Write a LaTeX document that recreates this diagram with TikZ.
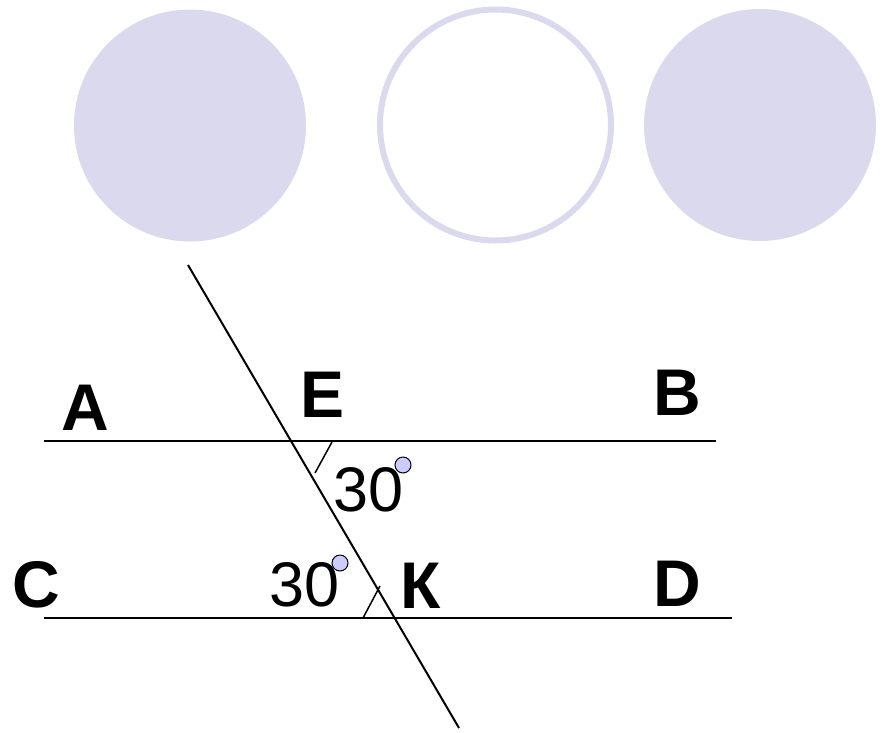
\documentclass[tikz,border=0pt]{standalone}
\usepackage{fontspec}
\setmainfont{Liberation Sans}
\usetikzlibrary{positioning}
\definecolor{lilac}{HTML}{DAD9ED}
\definecolor{degfill}{HTML}{CCCCFF}

\begin{document}
\begin{tikzpicture}[x=1pt, y=-1pt, line width=2pt,
  letter/.style={inner sep=0pt, font=\fontsize{66}{70}\selectfont\bfseries},
  angnum/.style={inner sep=0pt, font=\fontsize{63}{68}\selectfont},
  degmark/.style={circle, draw=black, line width=1pt, fill=degfill, inner sep=0pt, minimum size=16pt}]
  \useasboundingbox (0,0) rectangle (884,732);
  % circles on top
  \fill[lilac] (190,125.5) circle (116);
  \draw[lilac, line width=6pt] (495.5,125) circle (115.5);
  \fill[lilac] (760,125) circle (116);

  % lines
  \coordinate (a) at (44,441);
  \coordinate (b) at (716,441);
  \coordinate (c) at (44,618);
  \coordinate (d) at (732,618);
  \coordinate (top) at (188,265);
  \coordinate (bot) at (459,728);
  \draw (a) -- (b);
  \draw (c) -- (d);
  \draw (top) -- (bot);

  % angle marks
  \coordinate (e1) at (332,442);
  \coordinate (e2) at (315,473);
  \coordinate (k1) at (380,586);
  \coordinate (k2) at (363,618);
  \draw[line width=1.5pt] (e1) -- (e2);
  \draw[line width=1.5pt] (k1) -- (k2);

  % labels
  \node[letter] (la) at (85,408) {A};
  \node[letter] (le) at (323,395) {E};
  \node[letter] (lb) at (677,393) {B};
  \node[letter] (lc) at (36,585) {C};
  \node[letter] (lk) at (421,586) {К};
  \node[letter] (ld) at (677,584) {D};

  \node[angnum] (n1) at (369,489.5) {30};
  \node[angnum] (n2) at (304.5,584.5) {30};
  \node[degmark] (d1) at (403,465) {};
  \node[degmark] (d2) at (340,563) {};
\end{tikzpicture}
\end{document}
